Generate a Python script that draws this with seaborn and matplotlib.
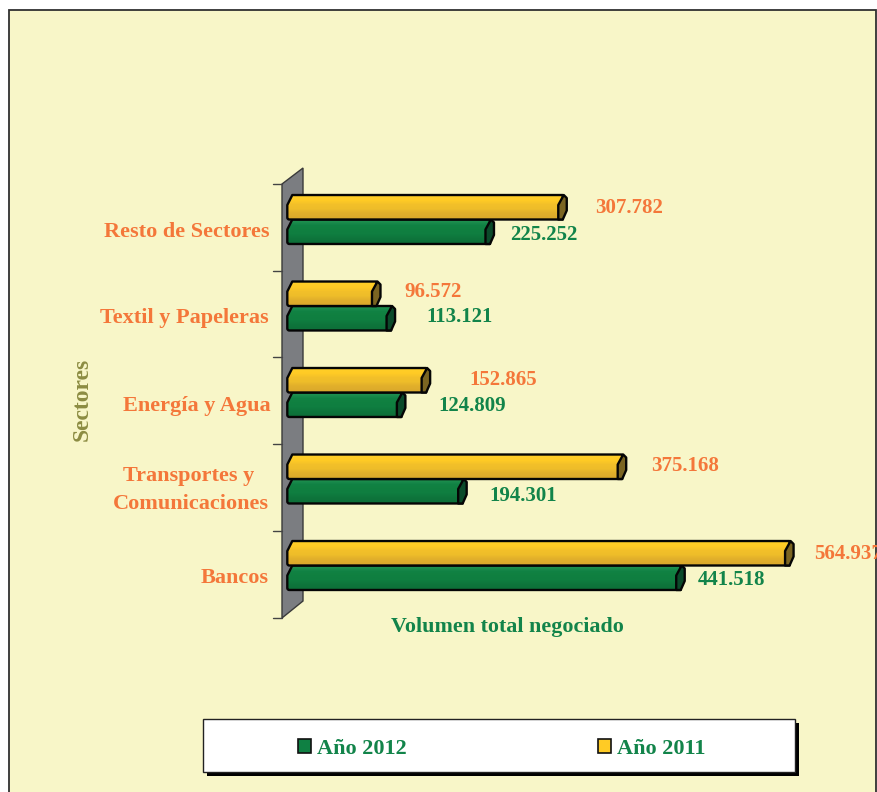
import numpy as np
import pandas as pd
import matplotlib
matplotlib.use("Agg")
import matplotlib.pyplot as plt
from matplotlib.patches import Rectangle, Polygon, PathPatch, Patch
from matplotlib.path import Path
from matplotlib.transforms import ScaledTranslation
import seaborn as sns

categories = ["Resto de Sectores", "Textil y Papeleras", "Energía y Agua",
              "Transportes y \nComunicaciones", "Bancos"]
values_2011 = [307782, 96572, 152865, 375168, 564937]
values_2012 = [225252, 113121, 124809, 194301, 441518]
series_names = ["Año 2011", "Año 2012"]

W, H = 877, 792
BG = "#F8F6C8"; ORANGE = "#F4773A"; GREEN = "#12844A"; OLIVE = "#8C8C42"
BARGREEN = "#0F8043"
YEL = "#FFCB25"
FONT = "Liberation Serif"

sns.set_theme(style="white")
plt.rcParams["font.family"] = [FONT, "DejaVu Sans"]
plt.rcParams["font.weight"] = "bold"

df = pd.DataFrame({
    "Sector": categories * 2,
    "Serie": [series_names[0]] * 5 + [series_names[1]] * 5,
    "Volumen": values_2011 + values_2012,
})

fig = plt.figure(figsize=(W / 100, H / 100), dpi=100, facecolor="white")

# decoration layer in pixel units
bg = fig.add_axes([0, 0, 1, 1], zorder=0)
bg.set_xlim(0, W); bg.set_ylim(H, 0); bg.axis("off")
bg.add_patch(Rectangle((9, 10), 867, 800, fc=BG, ec="#303030", lw=1.3))
bg.add_patch(Polygon([(282, 184), (303, 168), (303, 601), (282, 618)], closed=True,
                     fc="#7B7D81", ec="#3a3a3a", lw=1.0))
for yy in [184, 271, 357, 444, 531, 618]:
    bg.plot([273, 282], [yy, yy], color="#444444", lw=1.0)
bg.add_patch(Rectangle((207, 723), 592, 53, fc="black", ec="none"))
bg.add_patch(Rectangle((203, 719), 592, 53, fc="white", ec="#222222", lw=1.0))

# bars
LEFT, RIGHT, TOP, BOT = 291.3, 877, 176.25, 608.75
ax = fig.add_axes([LEFT / W, 1 - BOT / H, (RIGHT - LEFT) / W, (BOT - TOP) / H], zorder=1)
ax.patch.set_alpha(0)
sns.barplot(data=df, y="Sector", x="Volumen", hue="Serie", hue_order=series_names,
            order=categories, palette=[YEL, BARGREEN], width=0.566, gap=0, dodge=True,
            edgecolor="none", legend=False, ax=ax, saturation=1, err_kws={"linewidth": 0})
px_per_val = 0.000882
xmax = (RIGHT - LEFT) / px_per_val
ax.set_xlim(0, xmax)
ax.set_ylim(4.5, -0.5)
sx = xmax / (RIGHT - LEFT)
sy = 5 / (BOT - TOP)

grads = [["#FFCF28", "#FFCB25", "#F3C029", "#EEBD2A", "#E2B02B", "#DCAA2B"],
         ["#1F9050", "#118244", "#108040", "#0F7E40", "#0E763C", "#0D7039"]]
caps = ["#7B6522", "#0B4A2A"]
dxs = [[33, 28.5, 44, 29, 25.5], [21, 36, 37, 27, 18]]
dys = [[1, -1, 0, 0, 1], [4, -1, 1.5, 5, 3]]
txt_cols = [ORANGE, GREEN]

# green drawn first, yellow on top
for s in [1, 0]:
    z = 3 + (1 - s) * 2
    cont = ax.containers[s]
    for i, r in enumerate(cont.patches):
        x1 = r.get_x() + r.get_width()
        t, b = r.get_y(), r.get_y() + r.get_height()
        if t > b:
            t, b = b, t
        x0 = r.get_x()
        P = lambda dx, dy, base_x=x0, base_y=t: (base_x + dx * sx, base_y + dy * sy)
        verts = [P(1, 0), (x1, t), (x1, b), P(-2, 0, x0, b), P(-4, 0, x0, b), P(-4, -2, x0, b),
                 P(-4, 10), P(1, 0), P(1, 0)]
        codes = [Path.MOVETO, Path.LINETO, Path.LINETO, Path.LINETO, Path.CURVE3, Path.CURVE3,
                 Path.LINETO, Path.LINETO, Path.CLOSEPOLY]
        path = Path(verts, codes)
        outline = PathPatch(path, fc="none", ec="#050505", lw=1.7, zorder=z + 0.5,
                            clip_on=False, joinstyle="round")
        ax.add_patch(outline)
        r.set_zorder(z - 0.5)
        r.set_clip_path(outline)
        rgb = np.array([matplotlib.colors.to_rgb(c) for c in grads[s]])[:, None, :]
        im = ax.imshow(rgb, extent=(x0 - 5 * sx, x1, b, t), aspect="auto", zorder=z,
                       interpolation="bilinear")
        im.set_clip_box(fig.bbox)
        im.set_clip_path(outline)
        cap = Polygon([P(-4.5, 0, x1, b), P(-4.5, 10, x1, t), P(1, 0, x1, t),
                       P(4, 3, x1, t), P(4, -9, x1, b), P(0, 0, x1, b)],
                      closed=True, fc=caps[s], ec="#050505", lw=1.7, zorder=z + 0.6,
                      clip_on=False, joinstyle="round")
        ax.add_patch(cap)
        val = r.get_width()
        ax.annotate(f"{int(val):,}".replace(",", "."), xy=(val, (t + b) / 2),
                    xytext=(dxs[s][i] - 0.5, -dys[s][i] + 0.5), textcoords="offset pixels",
                    color=txt_cols[s], fontsize=15, fontweight="bold",
                    ha="left", va="center", annotation_clip=False, zorder=10)

ax.set_xlim(0, xmax)
ax.set_ylim(4.5, -0.5)
for sp in ax.spines.values():
    sp.set_visible(False)
ax.set_xticks([])
ax.tick_params(axis="y", length=0, pad=16)
ax.set_yticks(range(5))
ax.set_yticklabels(categories, fontsize=16, fontweight="bold", color=ORANGE,
                   linespacing=1.56, multialignment="center")
label_shift = [10, 9.5, 10.5, 4.5, 10]
label_dx = [0, 0, 2, 0, 0]
for lab, d, e in zip(ax.get_yticklabels(), label_shift, label_dx):
    lab.set_transform(lab.get_transform() + ScaledTranslation(e / 100, -d / 100, fig.dpi_scale_trans))

ax.set_xlabel("Volumen total negociado", color=GREEN, fontsize=15.8, fontweight="bold", va="center")
ax.xaxis.set_label_coords((507 - LEFT) / (RIGHT - LEFT), -(627 - BOT) / (BOT - TOP))
ax.set_ylabel("Sectores", color=OLIVE, fontsize=17, fontweight="bold", va="center")
ax.yaxis.set_label_coords((82 - LEFT) / (RIGHT - LEFT), 1 - (399 - TOP) / (BOT - TOP))

handles = [Patch(fc=BARGREEN, ec="#111111", lw=1.2), Patch(fc=YEL, ec="#111111", lw=1.2)]
leg = fig.legend(handles, [series_names[1], series_names[0]], ncol=2, frameon=False,
                 loc="center", bbox_to_anchor=(501.5 / W, 1 - 749 / H),
                 prop={"family": FONT, "weight": "bold", "size": 16},
                 handlelength=0.58, handleheight=0.58, handletextpad=0.27, columnspacing=8.6)
for t in leg.get_texts():
    t.set_color(GREEN)

fig.savefig("out.png", dpi=100)
